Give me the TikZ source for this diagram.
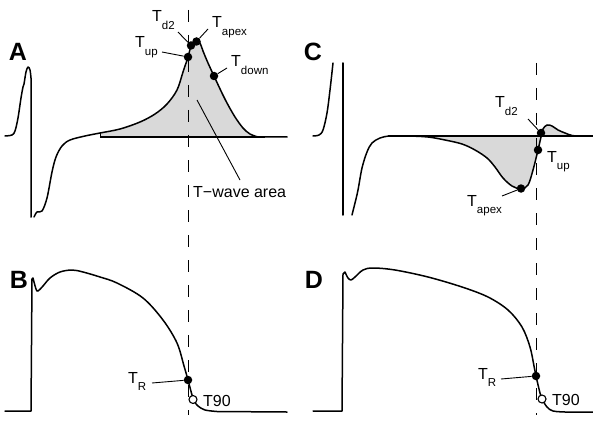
\documentclass[tikz,border=0pt]{standalone}
\usepackage{fontspec}
\setmainfont{Liberation Sans}
\definecolor{areagrey}{gray}{0.85}
\newcommand\Tl[1]{T\raisebox{-0.47em}{\fontsize{11.5}{12}\selectfont #1}}
\begin{document}
\begin{tikzpicture}[x=1pt,y=-1pt,
  wave/.style={line width=1.5pt, line join=round, line cap=round},
  leader/.style={line width=0.9pt},
  guide/.style={line width=1pt, dash pattern=on 12pt off 13pt},
  dot/.style={circle, fill=black, inner sep=0pt, minimum size=8.5pt},
  odot/.style={circle, draw=black, fill=white, line width=1.1pt, inner sep=0pt, minimum size=8pt},
  lbl/.style={anchor=base west, inner sep=0pt, font=\fontsize{16}{16}\selectfont},
  panel/.style={font=\fontsize{25}{25}\selectfont\bfseries, inner sep=0pt},
]
\useasboundingbox (0,0) rectangle (593,422);

% ---------- grey areas ----------
\fill[areagrey] (100,137) -- plot[smooth, tension=0.55] coordinates {(100,133)(120,129)(140,122)(155,114)(167,104)(177,90)(183,72)(188,57)(191,46)(194,42)(197,41)(200,43)(203,51)(208,63)(214,76)(221,91)(227,103)(235,117)(243,128)(250,134)(258,137)} -- cycle;
\fill[areagrey] plot[smooth, tension=0.55] coordinates {(408,136)(428,137)(445,140)(462,144)(475,150)(487,158)(495,167)(503,178)(512,186)(521,189)(528,185)(533,170)(538,150)(541,137)(543,129)(547,125)(552,126)(558,130)(565,133)(572,135.5)(580,136)} -- cycle;

% ---------- dashed guides ----------
\coordinate (gA) at (188,10); \coordinate (gB) at (188,415);
\coordinate (gC) at (536,63); \coordinate (gD) at (536,415);
\draw[guide] (gA) -- (gB);
\draw[guide] (gC) -- (gD);

% ---------- panel A ----------
\draw[line width=1pt] (100,137) -- (100,133);
\draw[line width=1.2pt] (100,137) -- (265,137);
\draw[wave] plot[smooth, tension=0.55] coordinates {(5,136)(12,135)(15,131)(18,118)(21,98)(23,87)(24,84)(26,72)(28,67)(30,70)(31,78)} -- (31,217);
\draw[wave] plot[smooth, tension=0.55] coordinates {(34,217)(37,212)(42,211)(47,198)(52,172)(56,157)(62,146)(70,140)(85,136)(100,133)(120,129)(140,122)(155,114)(167,104)(177,90)(183,72)(188,57)(191,46)(194,42)(197,41)(200,43)(203,51)(208,63)(214,76)(221,91)(227,103)(235,117)(243,128)(250,134)(258,137)} -- (287,137);

\node[panel] (pA) at (18,52) {A};
\node[lbl] (Ad2L) at (152,22) {\Tl{d2}};
\node[lbl] (AapexL) at (212,28) {\Tl{apex}};
\node[lbl] (AupL) at (135,48) {\Tl{up}};
\node[lbl] (AdownL) at (231,67) {\Tl{down}};
\node[lbl] (AareaL) at (193,197) {T−wave area};
\coordinate (Ad2e) at (178,32);
\coordinate (Aapexe) at (208,29);
\coordinate (Aupe) at (162,52);
\coordinate (Adowne) at (227,68);
\coordinate (Aareae) at (240,180);
\coordinate (Aareaf) at (197,100);
\node[dot] (Ad2) at (191,45.5) {};
\node[dot] (Aapex) at (196.5,41.5) {};
\node[dot] (Aup) at (188,57) {};
\node[dot] (Adown) at (214,76) {};
\draw[leader] (Ad2e) -- (Ad2);
\draw[leader] (Aapexe) -- (Aapex);
\draw[leader] (Aupe) -- (Aup);
\draw[leader] (Adowne) -- (Adown);
\draw[leader] (Aareae) -- (Aareaf);

% ---------- panel C ----------
\draw[line width=1.3pt] (388,136) -- (593,136);
\draw[wave] plot[smooth, tension=0.55] coordinates {(313,136)(319,135)(323,130)(327,113)(330,90)(333,63)};
\draw[wave] (343,63) -- (343,215);
\draw[wave] plot[smooth, tension=0.55] coordinates {(352,215)(355,203)(358,190)(362,168)(367,152)(372,143)(380,138)(390,136)(408,136)(428,137)(445,140)(462,144)(475,150)(487,158)(495,167)(503,178)(512,186)(521,189)(528,185)(533,170)(538,150)(541,137)(543,129)(547,125)(552,126)(558,130)(565,133)(572,135.5)(580,136)} -- (593,136);

\node[panel] (pC) at (313,52) {C};
\node[lbl] (Cd2L) at (495,108) {\Tl{d2}};
\node[lbl] (CupL) at (547,162) {\Tl{up}};
\node[lbl] (CapexL) at (467,206) {\Tl{apex}};
\coordinate (Cd2e) at (528,119);
\coordinate (Capexe) at (502,196);
\node[dot] (Cd2) at (541,133) {};
\node[dot] (Cup) at (538,150) {};
\node[dot] (Capex) at (521,188.5) {};
\draw[leader] (Cd2e) -- (Cd2);
\draw[leader] (Capexe) -- (Capex);

% ---------- panel B ----------
\draw[wave] (5,411) -- (31,411) -- (32,279) -- plot[smooth, tension=0.55] coordinates {(33,278)(36,289)(38,291)(43,286)(50,278)(60,272)(72,270)(83,272)(100,277)(117,283)(143,298)(163,320)(177,343)(184,366)(188,380)(192,395)(194,401)(198,406)(205,410)(217,411.5)} -- (287,412);
\node[panel] (pB) at (19,280) {B};
\node[lbl] (BRL) at (128,383) {\Tl{R}};
\node[lbl] (B90L) at (203,406) {T90};
\coordinate (BRe) at (152,383);
\node[dot] (BR) at (188,380) {};
\node[odot] (B90) at (193,399.5) {};
\draw[leader] (BRe) -- (BR);

% ---------- panel D ----------
\draw[wave] (313,411) -- (342,411) -- (343,274) -- plot[smooth, tension=0.55] coordinates {(345,272)(348,278)(351,280)(355,277)(363,270)(373,268)(395,270)(428,277)(462,287)(488,297)(508,310)(522,327)(530,347)(534,366)(536,376)(540,393)(542,399)(547,407)(553,411)(565,412)} -- (593,412);
\node[panel] (pD) at (314,280) {D};
\node[lbl] (DRL) at (478,379) {\Tl{R}};
\node[lbl] (D90L) at (552,405) {T90};
\coordinate (DRe) at (501,379);
\node[dot] (DR) at (536,376) {};
\node[odot] (D90) at (542,399) {};
\draw[leader] (DRe) -- (DR);
\end{tikzpicture}
\end{document}
